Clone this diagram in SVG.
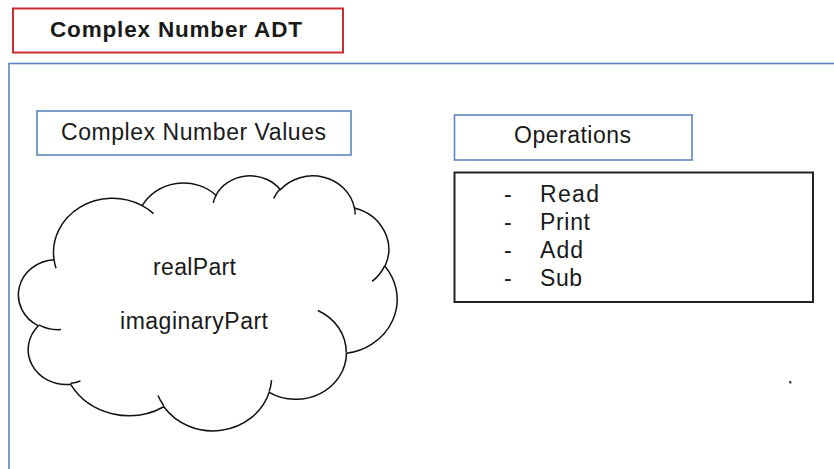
<svg xmlns="http://www.w3.org/2000/svg" width="834" height="469" viewBox="0 0 834 469">
<style>
text{font-family:"Liberation Sans",Arial,sans-serif;fill:#1a1a1a}
.lbl{font-size:23px}
.blue{fill:#fff;stroke:#5a86bd;stroke-width:1.6}
.cloud{fill:#fff;stroke:#111;stroke-width:1.5}
.hook{fill:none;stroke:#111;stroke-width:1.5}
</style>
<rect width="834" height="469" fill="#fff"/>
<g id="title">
<rect x="13" y="8.5" width="330" height="44" fill="#fff" stroke="#cc2b31" stroke-width="2"/>
<text x="50" y="36.5" font-size="22.5" font-weight="bold" textLength="252" lengthAdjust="spacing">Complex Number ADT</text>
</g>
<g id="frame">
<rect x="9" y="63.5" width="900" height="500" fill="none" stroke="#5a86bd" stroke-width="1.6"/>
</g>
<g id="values-label">
<rect class="blue" x="37" y="111" width="314" height="44"/>
<text class="lbl" x="61" y="140" textLength="265" lengthAdjust="spacing">Complex Number Values</text>
</g>
<g id="cloud">
<path class="cloud" d="M54.04,259.82 A58.93,54.25 0 0 1 142.22,205.71 A46.54,42.90 0 0 1 215.97,195.26 A38.09,35.09 0 0 1 280.35,189.65 A42.39,38.93 0 0 1 354.40,207.91 A46.54,42.93 0 0 1 384.94,266.26 A59.12,54.42 0 0 1 346.42,353.28 A50.49,46.44 0 0 1 269.20,392.30 A58.92,54.39 0 0 1 163.83,406.77 A67.37,62.23 0 0 1 70.66,384.37 A38.05,34.93 0 0 1 38.45,325.81 A37.92,35.09 0 0 1 54.04,259.82 Z"/>
<path class="hook" d="M60.96,329.52 A37.92,35.09 0 0 1 38.85,324.82 M80.46,381.00 A38.05,34.93 0 0 1 70.79,383.25 M163.80,405.74 A58.92,54.39 0 0 1 157.97,395.47 M271.57,380.13 A58.92,54.39 0 0 1 269.24,391.40 M317.84,310.49 A50.49,46.44 0 0 1 346.22,352.61 M384.77,265.63 A46.54,42.93 0 0 1 372.13,281.43 M354.45,207.03 A42.39,38.93 0 0 1 355.11,214.49 M273.76,198.33 A42.39,38.93 0 0 1 280.24,188.81 M213.22,202.86 A38.09,35.09 0 0 1 216.36,194.66 M142.18,205.65 A58.93,54.25 0 0 1 153.52,213.60 M56.02,268.20 A58.93,54.25 0 0 1 54.04,259.82"/>
<text class="lbl" x="153" y="275" font-size="22" textLength="83" lengthAdjust="spacing">realPart</text>
<text class="lbl" x="120" y="329" font-size="22" textLength="148" lengthAdjust="spacing">imaginaryPart</text>
</g>
<g id="operations-label">
<rect class="blue" x="454.5" y="115" width="237.5" height="45"/>
<text class="lbl" x="514" y="143" textLength="117" lengthAdjust="spacing">Operations</text>
</g>
<g id="operations-list">
<rect x="454.5" y="172.5" width="358.5" height="129.5" fill="#fff" stroke="#222" stroke-width="2"/>
<text class="lbl" x="504" y="201.5">-</text>
<text class="lbl" x="540" y="201.5" textLength="59" lengthAdjust="spacing">Read</text>
<text class="lbl" x="504" y="229.5">-</text>
<text class="lbl" x="540" y="229.5" textLength="50" lengthAdjust="spacing">Print</text>
<text class="lbl" x="504" y="257.5">-</text>
<text class="lbl" x="540" y="257.5" textLength="43" lengthAdjust="spacing">Add</text>
<text class="lbl" x="504" y="285.5">-</text>
<text class="lbl" x="540" y="285.5" textLength="42" lengthAdjust="spacing">Sub</text>
</g>
<g id="connectors"></g>
<rect x="789" y="381" width="2.5" height="2.5" fill="#555"/>
</svg>
